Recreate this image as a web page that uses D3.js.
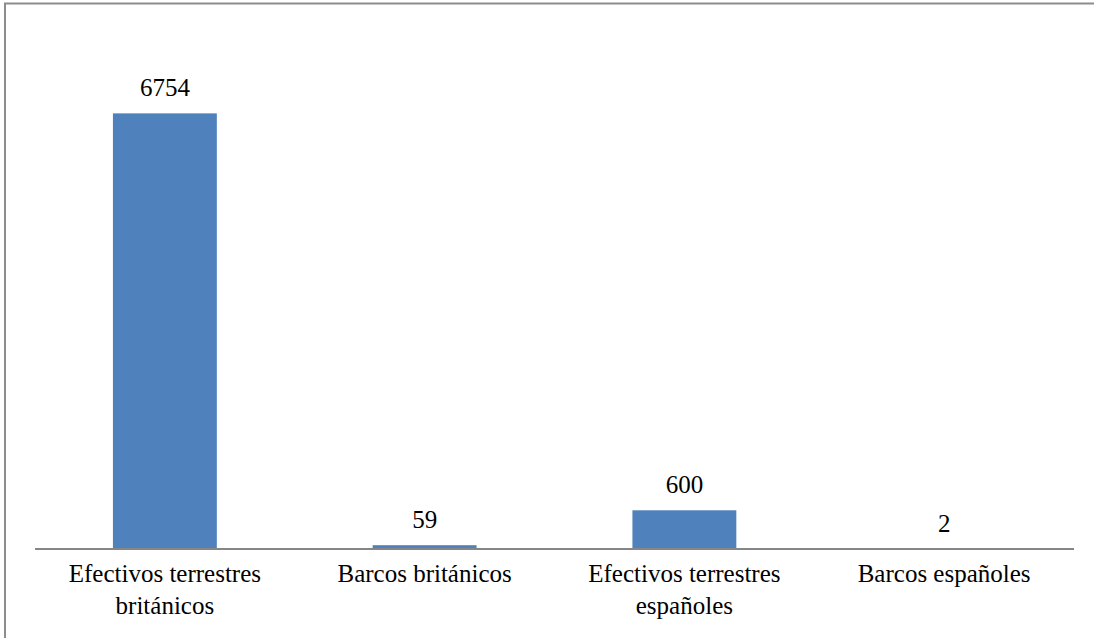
<!DOCTYPE html>
<html><head><meta charset="utf-8">
<script src="https://cdn.jsdelivr.net/npm/d3@7"></script>
<style>
@font-face{font-family:"ChartSerif";src:local("Liberation Serif"),local("LiberationSerif"),local("Times New Roman"),local("Tinos");}
body{margin:0;background:#fff}
svg{display:block}
</style>
</head><body>
<script>
const categories = [["Efectivos terrestres","británicos"],["Barcos británicos"],["Efectivos terrestres","españoles"],["Barcos españoles"]];
const values = [6754, 59, 600, 2];

const W = 1094, H = 638;
const svg = d3.select("body").append("svg").attr("width", W).attr("height", H);
svg.append("rect").attr("x",5).attr("y",3.5).attr("width",W).attr("height",H).attr("fill","#fff").attr("stroke","#8c8c8c").attr("stroke-width",2);

const left = 35, right = 1074, axisY = 549;
const x = d3.scaleBand().domain(d3.range(values.length)).range([left,right]).paddingInner(0.6).paddingOuter(0.3);
const y = d3.scaleLinear().domain([0,8000]).range([axisY, 33]);

svg.selectAll("rect.bar").data(values).join("rect").attr("class","bar")
  .attr("x",(d,i)=>x(i)).attr("width",x.bandwidth())
  .attr("y",d=>y(d)).attr("height",d=>axisY-y(d)).attr("fill","#4F81BD");

svg.append("line").attr("x1",left).attr("x2",right).attr("y1",axisY).attr("y2",axisY).attr("stroke","#868686").attr("stroke-width",2);

const font = '"Liberation Serif", ChartSerif, serif';
svg.selectAll("text.val").data(values).join("text").attr("class","val")
  .attr("x",(d,i)=>x(i)+x.bandwidth()/2).attr("y",d=>y(d)-17)
  .attr("text-anchor","middle").style("font-family",font).attr("font-size",25).attr("fill","#000").text(d=>d);

categories.forEach((lines,i)=>{
  lines.forEach((l,j)=>svg.append("text").attr("text-anchor","middle").style("font-family",font).attr("font-size",25).attr("fill","#000")
    .attr("x",x(i)+x.bandwidth()/2).attr("y",582+j*32).text(l));
});
</script>
</body></html>
